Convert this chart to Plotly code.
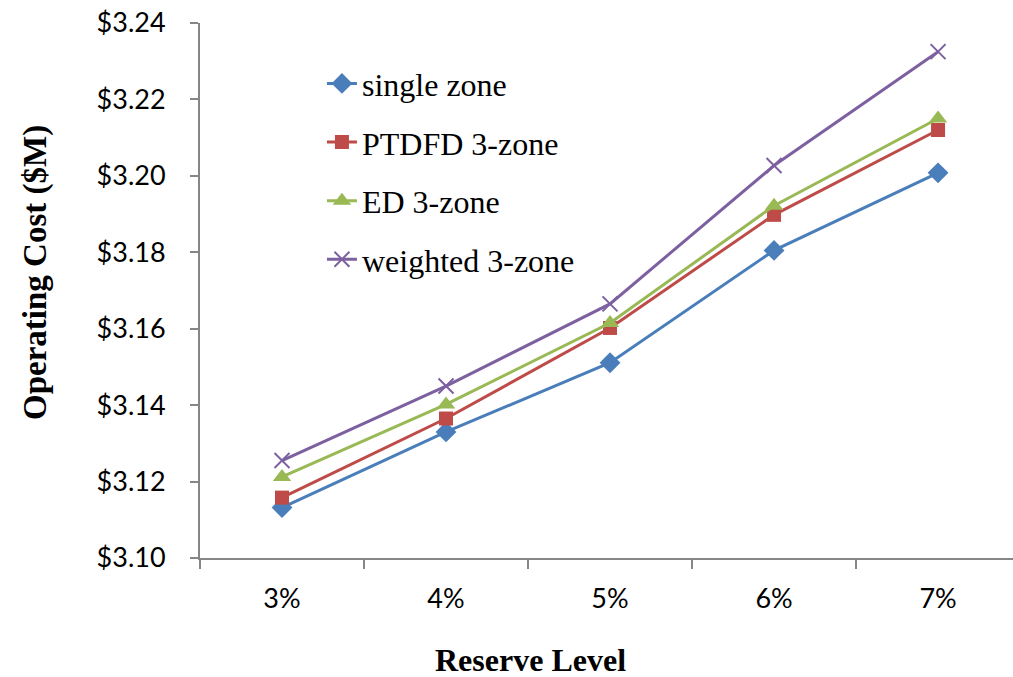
import plotly.graph_objects as go

# Reserve levels on the category axis
reserve_levels = ["3%", "4%", "5%", "6%", "7%"]

# Operating cost ($M) per zoning approach
single_zone = [3.1132, 3.1330, 3.1511, 3.1805, 3.2008]
ptdfd_3zone = [3.1158, 3.1365, 3.1602, 3.1898, 3.2120]
ed_3zone = [3.1212, 3.1402, 3.1615, 3.1922, 3.2150]
weighted_3zone = [3.1255, 3.1450, 3.1665, 3.2027, 3.2325]

y_ticks = [3.10, 3.12, 3.14, 3.16, 3.18, 3.20, 3.22, 3.24]

series = [
    ("single zone", single_zone, "#4A7EBB", "diamond", 16),
    ("PTDFD 3-zone", ptdfd_3zone, "#BE4B48", "square", 14),
    ("ED 3-zone", ed_3zone, "#98B954", "triangle-up", 16),
    ("weighted 3-zone", weighted_3zone, "#7D60A0", "x-thin", 15),
]

fig = go.Figure()
for i, (name, vals, color, symbol, size) in enumerate(series):
    marker = dict(symbol=symbol, size=size, color=color)
    if symbol == "x-thin":
        marker["line"] = dict(color=color, width=2)
    fig.add_trace(go.Scatter(
        x=reserve_levels, y=vals, name=name, mode="lines+markers",
        line=dict(color=color, width=3), marker=marker,
        legendgroup=f"g{i}",
    ))

axis_color = "#868686"

fig.update_layout(
    width=1013, height=677,
    margin=dict(l=200, r=0, t=23, b=119),
    plot_bgcolor="white", paper_bgcolor="white",
    font=dict(family="Lato", size=27, color="black"),
    showlegend=True,
    legend=dict(
        x=0.15, y=0.938, xanchor="left", yanchor="top",
        font=dict(family="Liberation Serif", size=32, color="black"),
        bgcolor="rgba(0,0,0,0)", tracegroupgap=14, traceorder="grouped",
    ),
    xaxis=dict(
        type="category", range=[-0.5, 4.457],
        showline=True, linecolor=axis_color, linewidth=2,
        ticks="outside", tickson="boundaries", ticklen=9,
        tickcolor=axis_color, tickwidth=2,
        showgrid=False, zeroline=False,
        ticklabelstandoff=16,
    ),
    yaxis=dict(
        range=[3.10, 3.24], tickvals=y_ticks, tickformat="$.2f",
        showline=True, linecolor=axis_color, linewidth=2,
        ticks="outside", ticklen=8, tickcolor=axis_color, tickwidth=2,
        showgrid=False, zeroline=False,
        ticklabelstandoff=19,
    ),
    annotations=[
        dict(text="<b>Reserve Level</b>", xref="paper", yref="paper",
             x=(530 - 200) / 813, y=-(660 - 558) / 535,
             xanchor="center", yanchor="middle", showarrow=False,
             font=dict(family="Liberation Serif", size=32, color="black")),
        dict(text="<b>Operating Cost ($M)</b>", xref="paper", yref="paper",
             x=-(200 - 35) / 813, y=(558 - 273) / 535, textangle=-90,
             xanchor="center", yanchor="middle", showarrow=False,
             font=dict(family="Liberation Serif", size=33, color="black")),
    ],
)

fig.write_html("out.html")
